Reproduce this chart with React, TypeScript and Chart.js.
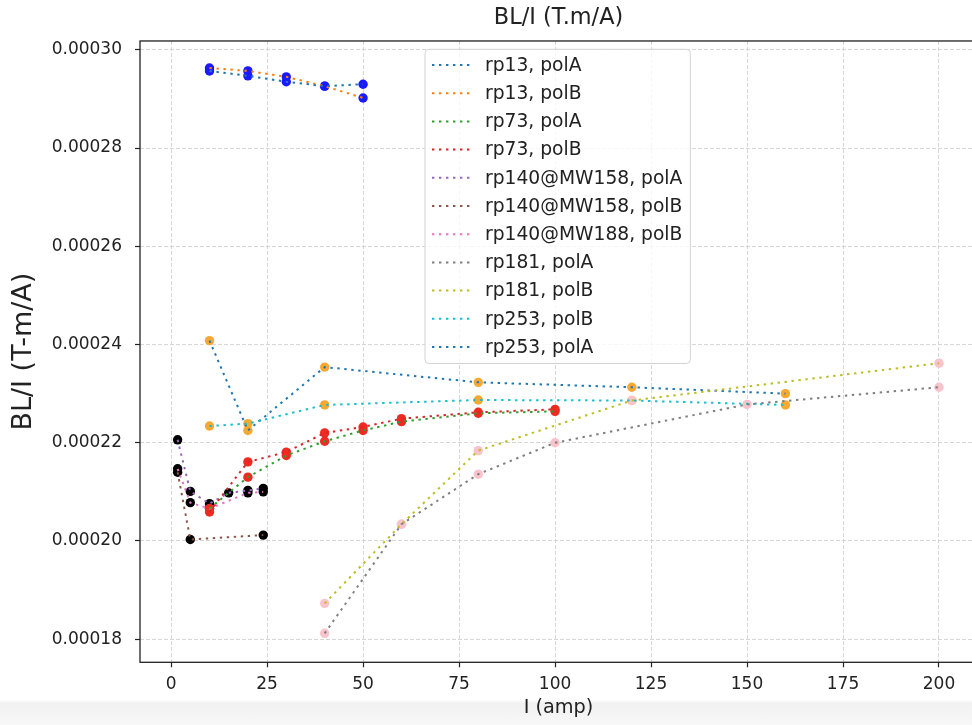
import { useEffect, useRef } from 'react';
import { Chart, registerables } from 'chart.js';

Chart.register(...registerables);

const FONT = '"DejaVu Sans", sans-serif';
const INK = '#222222';

// ---- tick values / labels ----
const xTickValues = [0, 25, 50, 75, 100, 125, 150, 175, 200];
const xTickLabels = ['0', '25', '50', '75', '100', '125', '150', '175', '200'];
const yTickValues = [0.00018, 0.0002, 0.00022, 0.00024, 0.00026, 0.00028, 0.0003];
const yTickLabels = ['0.00018', '0.00020', '0.00022', '0.00024', '0.00026', '0.00028', '0.00030'];

// ---- series (I in amp, BL/I in T-m/A) ----
const rp13PolA_I = [10, 20, 30, 40, 50];
const rp13PolA_BL = [0.0002957, 0.0002947, 0.0002935, 0.0002926, 0.000293];
const rp13PolB_I = [10, 20, 30, 40, 50];
const rp13PolB_BL = [0.0002963, 0.0002957, 0.0002945, 0.0002926, 0.0002902];

const rp73PolA_I = [10, 20, 30, 40, 50, 60, 80, 100];
const rp73PolA_BL = [0.0002066, 0.000213, 0.0002174, 0.0002203, 0.0002225, 0.0002243, 0.000226, 0.0002264];
const rp73PolB_I = [10, 20, 30, 40, 50, 60, 80, 100];
const rp73PolB_BL = [0.0002059, 0.0002161, 0.0002181, 0.000222, 0.0002232, 0.0002249, 0.0002262, 0.0002268];

const rp140MW158PolA_I = [1.7, 5, 10, 15, 20, 24];
const rp140MW158PolA_BL = [0.0002206, 0.0002101, 0.0002076, 0.0002098, 0.0002103, 0.0002107];
const rp140MW158PolB_I = [1.7, 5, 24];
const rp140MW158PolB_BL = [0.000214, 0.0002003, 0.0002012];
const rp140MW188PolB_I = [1.7, 5, 10, 20, 24];
const rp140MW188PolB_BL = [0.0002147, 0.0002078, 0.0002066, 0.0002098, 0.00021];

const rp181PolA_I = [40, 60, 80, 100, 150, 200];
const rp181PolA_BL = [0.0001812, 0.0002034, 0.0002136, 0.00022, 0.0002278, 0.0002313];
const rp181PolB_I = [40, 60, 80, 120, 200];
const rp181PolB_BL = [0.0001873, 0.0002034, 0.0002184, 0.0002286, 0.0002362];

const rp253PolB_I = [10, 20, 40, 80, 120, 160];
const rp253PolB_BL = [0.0002234, 0.0002239, 0.0002277, 0.0002287, 0.0002286, 0.0002277];
const rp253PolA_I = [10, 20, 40, 80, 120, 160];
const rp253PolA_BL = [0.0002408, 0.0002225, 0.0002354, 0.0002323, 0.0002313, 0.00023];

const seriesLabels = [
  'rp13, polA', 'rp13, polB', 'rp73, polA', 'rp73, polB',
  'rp140@MW158, polA', 'rp140@MW158, polB', 'rp140@MW188, polB',
  'rp181, polA', 'rp181, polB', 'rp253, polB', 'rp253, polA',
];
const seriesColors = [
  '#1f77b4', '#ff7f0e', '#2ca02c', '#d62728', '#9467bd', '#8c564b',
  '#e377c2', '#7f7f7f', '#bcbd22', '#17becf', '#1f77b4',
];
const seriesI = [
  rp13PolA_I, rp13PolB_I, rp73PolA_I, rp73PolB_I,
  rp140MW158PolA_I, rp140MW158PolB_I, rp140MW188PolB_I,
  rp181PolA_I, rp181PolB_I, rp253PolB_I, rp253PolA_I,
];
const seriesBL = [
  rp13PolA_BL, rp13PolB_BL, rp73PolA_BL, rp73PolB_BL,
  rp140MW158PolA_BL, rp140MW158PolB_BL, rp140MW188PolB_BL,
  rp181PolA_BL, rp181PolB_BL, rp253PolB_BL, rp253PolA_BL,
];
// measured-point marker colour per series
const markerColors = [
  '#1a1aff', '#1a1aff', '#ee2b23', '#ee2b23', '#000000', '#000000', '#000000',
  '#f9c3cc', '#f9c3cc', '#f6a932', '#f6a932',
];

const DOT = [2.4, 4.6];

const pts = (xs: number[], ys: number[]) => xs.map((x, i) => ({ x, y: ys[i] }));

const framePlugin = {
  id: 'frame',
  afterDatasetsDraw(chart: any) {
    const { ctx, chartArea: a } = chart;
    ctx.save();
    ctx.strokeStyle = INK;
    ctx.lineWidth = 1.3;
    ctx.setLineDash([]);
    ctx.strokeRect(a.left, a.top, a.right - a.left, a.bottom - a.top);
    ctx.restore();
  },
};

const legendPlugin = {
  id: 'boxLegend',
  afterDraw(chart: any) {
    const { ctx } = chart;
    ctx.save();
    ctx.font = `18.7px ${FONT}`;
    const left = 425;
    const top = 49.3;
    const rowH = 28.2;
    const firstY = top + 15.7;
    const textX = left + 60;
    let maxW = 0;
    seriesLabels.forEach((l) => { maxW = Math.max(maxW, ctx.measureText(l).width); });
    const w = textX - left + maxW + 8;
    const h = 15.7 + rowH * (seriesLabels.length - 1) + 16.5;
    const r = 4;
    ctx.beginPath();
    ctx.moveTo(left + r, top);
    ctx.lineTo(left + w - r, top);
    ctx.arcTo(left + w, top, left + w, top + r, r);
    ctx.lineTo(left + w, top + h - r);
    ctx.arcTo(left + w, top + h, left + w - r, top + h, r);
    ctx.lineTo(left + r, top + h);
    ctx.arcTo(left, top + h, left, top + h - r, r);
    ctx.lineTo(left, top + r);
    ctx.arcTo(left, top, left + r, top, r);
    ctx.closePath();
    ctx.fillStyle = 'rgba(255,255,255,0.8)';
    ctx.fill();
    ctx.strokeStyle = '#d3d3d3';
    ctx.lineWidth = 1;
    ctx.stroke();
    seriesLabels.forEach((label, i) => {
      const y = firstY + i * rowH;
      ctx.beginPath();
      ctx.setLineDash(DOT);
      ctx.strokeStyle = seriesColors[i];
      ctx.lineWidth = 2;
      ctx.moveTo(left + 7, y);
      ctx.lineTo(left + 45, y);
      ctx.stroke();
      ctx.setLineDash([]);
      ctx.fillStyle = INK;
      ctx.textBaseline = 'middle';
      ctx.textAlign = 'left';
      ctx.fillText(label, textX, y + 1);
    });
    ctx.restore();
  },
};

export default function App() {
  const ref = useRef<HTMLCanvasElement | null>(null);

  useEffect(() => {
    if (!ref.current) return;
    Chart.defaults.font.family = FONT;
    const lineSets = seriesLabels.map((label, i) => ({
      label,
      data: pts(seriesI[i], seriesBL[i]),
      showLine: true,
      borderColor: seriesColors[i],
      backgroundColor: seriesColors[i],
      borderWidth: 2,
      borderDash: DOT,
      pointRadius: 0,
      pointHoverRadius: 0,
      fill: false,
      tension: 0,
      order: 0,
    }));
    const markerSets = seriesLabels.map((label, i) => ({
      label: label + ' pts',
      data: pts(seriesI[i], seriesBL[i]),
      showLine: false,
      backgroundColor: markerColors[i],
      borderWidth: 0,
      pointRadius: 4.7,
      pointHoverRadius: 4.7,
      order: 1,
    }));

    const chart = new Chart(ref.current, {
      type: 'scatter',
      data: { datasets: [...lineSets, ...markerSets] as any },
      plugins: [framePlugin, legendPlugin],
      options: {
        responsive: false,
        animation: false,
        devicePixelRatio: 1,
        layout: { padding: { left: 0, right: 13, top: 0, bottom: 0 } },
        plugins: {
          legend: { display: false },
          tooltip: { enabled: false },
          title: {
            display: true,
            fullSize: false,
            text: 'BL/I (T.m/A)',
            color: INK,
            font: { size: 22.4, weight: 'normal', family: FONT },
            padding: { top: 5, bottom: 9.1 },
          },
        },
        scales: {
          x: {
            type: 'linear',
            min: -8.1,
            max: 209.9,
            afterBuildTicks: (s: any) => { s.ticks = xTickValues.map((v) => ({ value: v })); },
            afterFit: (s: any) => { s.height = 62.7; },
            ticks: {
              callback: (_v: any, i: number) => xTickLabels[i],
              color: INK,
              font: { size: 17, family: FONT },
              padding: 7,
              maxRotation: 0,
              autoSkip: false,
            },
            grid: { color: '#cdcdcd', lineWidth: 0.8, tickLength: 5, tickColor: INK, tickWidth: 1.2 },
            border: { display: false, dash: [4, 2] },
            title: {
              display: true,
              text: 'I (amp)',
              color: INK,
              font: { size: 19.3, family: FONT },
              padding: { top: 0, bottom: 5.4 },
            },
          },
          y: {
            type: 'linear',
            min: 0.0001753,
            max: 0.0003018,
            afterBuildTicks: (s: any) => { s.ticks = yTickValues.map((v) => ({ value: v })); },
            afterFit: (s: any) => { s.width = 140; },
            ticks: {
              callback: (_v: any, i: number) => yTickLabels[i],
              color: INK,
              font: { size: 17, family: FONT },
              padding: 13,
              autoSkip: false,
            },
            grid: { color: '#cdcdcd', lineWidth: 0.8, tickLength: 5, tickColor: INK, tickWidth: 1.2 },
            border: { display: false, dash: [4, 2] },
            title: {
              display: true,
              text: 'BL/I (T-m/A)',
              color: INK,
              font: { size: 27, family: FONT },
              padding: { top: 8, bottom: 0 },
            },
          },
        },
      } as any,
    });
    return () => chart.destroy();
  }, []);

  return (
    <div
      style={{
        position: 'fixed',
        left: 0,
        top: 0,
        width: 972,
        height: 725,
        overflow: 'hidden',
        background: 'linear-gradient(to bottom, #ffffff 0px, #ffffff 700px, #f1f1f1 703px, #f8f8f8 725px)',
      }}
    >
      <canvas ref={ref} width={990} height={725} style={{ width: 990, height: 725, display: 'block' }} />
    </div>
  );
}
